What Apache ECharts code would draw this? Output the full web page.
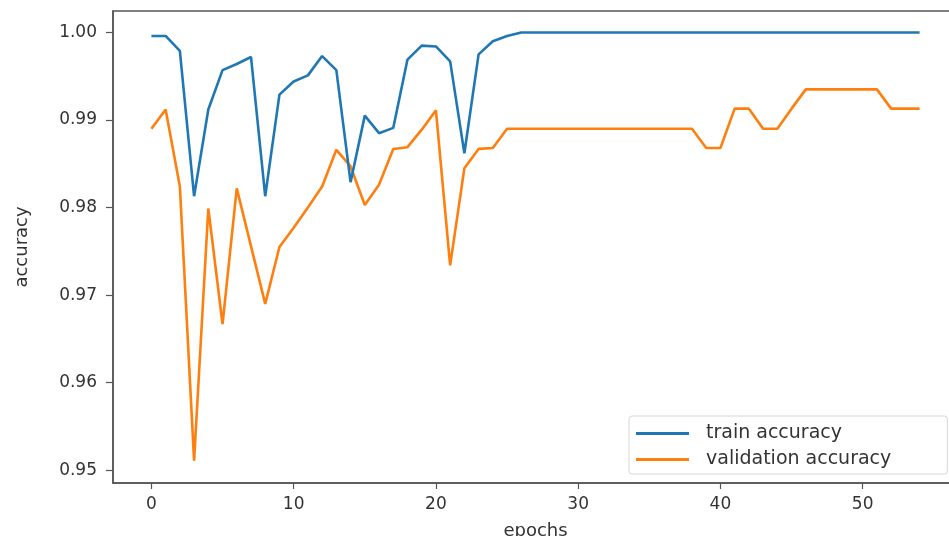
<!DOCTYPE html>
<html>
<head>
<meta charset="utf-8">
<script src="https://cdn.jsdelivr.net/npm/echarts@6/dist/echarts.min.js"></script>
<style>
html,body{margin:0;padding:0;background:#fff;}
#chart{width:949px;height:536px;}
</style>
</head>
<body>
<div id="chart"></div>
<script>
var epochs = [0,1,2,3,4,5,6,7,8,9,10,11,12,13,14,15,16,17,18,19,20,21,22,23,24,25,26,27,28,29,30,31,32,33,34,35,36,37,38,39,40,41,42,43,44,45,46,47,48,49,50,51,52,53,54];
var trainAccuracy = [0.9996,0.9996,0.9979,0.9813,0.9912,0.9957,0.9964,0.9972,0.9813,0.9929,
  0.9944,0.9951,0.9973,0.9957,0.9829,0.9905,0.9885,0.9891,0.9969,0.9985,
  0.9984,0.9967,0.9862,0.9975,0.9990,0.9996,1.0,1.0,1.0,1.0,
  1.0,1.0,1.0,1.0,1.0,1.0,1.0,1.0,1.0,1.0,
  1.0,1.0,1.0,1.0,1.0,1.0,1.0,1.0,1.0,1.0,
  1.0,1.0,1.0,1.0,1.0];
var validationAccuracy = [0.9890,0.9912,0.9824,0.9511,0.9799,0.9667,0.9822,0.9756,0.9690,0.9755,
  0.9777,0.9800,0.9824,0.9866,0.9847,0.9803,0.9826,0.9867,0.9869,0.9889,
  0.9911,0.9734,0.9845,0.9867,0.9868,0.9890,0.9890,0.9890,0.9890,0.9890,
  0.9890,0.9890,0.9890,0.9890,0.9890,0.9890,0.9890,0.9890,0.9890,0.9868,
  0.9868,0.9913,0.9913,0.9890,0.9890,0.9913,0.9935,0.9935,0.9935,0.9935,
  0.9935,0.9935,0.9913,0.9913,0.9913];
var xTicks = [0,10,20,30,40,50];
var yTicks = [0.95,0.96,0.97,0.98,0.99,1.00];
var seriesNames = ['train accuracy','validation accuracy'];

function pairs(ys){ return epochs.map(function(e,i){ return [e, ys[i]]; }); }

var axisColor = '#555555';
var textColor = '#333333';
var font = 'DejaVu Sans';

var chart = echarts.init(document.getElementById('chart'));
chart.setOption({
  animation: false,
  backgroundColor: '#ffffff',
  textStyle: {fontFamily: font},
  grid: {left: 113, top: 11, right: -9, bottom: 53, outerBoundsMode: 'none', containLabel: false,
         show: true, borderColor: axisColor, borderWidth: 1.5, backgroundColor: 'transparent'},
  legend: {
    orient: 'vertical', left: 629, top: 416,
    data: seriesNames,
    icon: 'rect', itemWidth: 53, itemHeight: 3, itemGap: 7,
    padding: [8, 56, 5, 7],
    borderColor: '#d6d6d6', borderWidth: 1, borderRadius: 3,
    backgroundColor: 'rgba(255,255,255,0.8)',
    textStyle: {fontFamily: font, fontSize: 19, color: textColor, padding: [0,0,0,12], lineHeight: 16}
  },
  xAxis: {
    type: 'value', min: -2.7, max: 56.7,
    name: 'epochs', nameLocation: 'middle', nameGap: 39,
    nameTextStyle: {fontFamily: font, fontSize: 18, color: textColor, verticalAlign: 'top'},
    axisLine: {show: true, onZero: false, lineStyle: {color: axisColor, width: 1.5}},
    axisTick: {show: true, length: 6, lineStyle: {color: axisColor, width: 1.2}, customValues: xTicks},
    axisLabel: {fontFamily: font, fontSize: 17, color: textColor, margin: 13, customValues: xTicks},
    splitLine: {show: false}
  },
  yAxis: {
    type: 'value', min: 0.94855, max: 1.00245,
    name: 'accuracy', nameLocation: 'middle', nameGap: 82,
    nameTextStyle: {fontFamily: font, fontSize: 18, color: textColor},
    axisLine: {show: true, onZero: false, lineStyle: {color: axisColor, width: 1.5}},
    axisTick: {show: true, length: 7, lineStyle: {color: axisColor, width: 1.2}, customValues: yTicks},
    axisLabel: {fontFamily: font, fontSize: 17, color: textColor, margin: 16, customValues: yTicks,
      formatter: function(v){ return v.toFixed(2); }},
    splitLine: {show: false}
  },
  series: [
    {name: seriesNames[0], type: 'line', data: pairs(trainAccuracy), showSymbol: false, symbol: 'none',
     lineStyle: {color: '#1f77b4', width: 2.6}, itemStyle: {color: '#1f77b4'}, z: 3},
    {name: seriesNames[1], type: 'line', data: pairs(validationAccuracy), showSymbol: false, symbol: 'none',
     lineStyle: {color: '#ff7f0e', width: 2.6}, itemStyle: {color: '#ff7f0e'}, z: 2}
  ]
});
</script>
</body>
</html>
